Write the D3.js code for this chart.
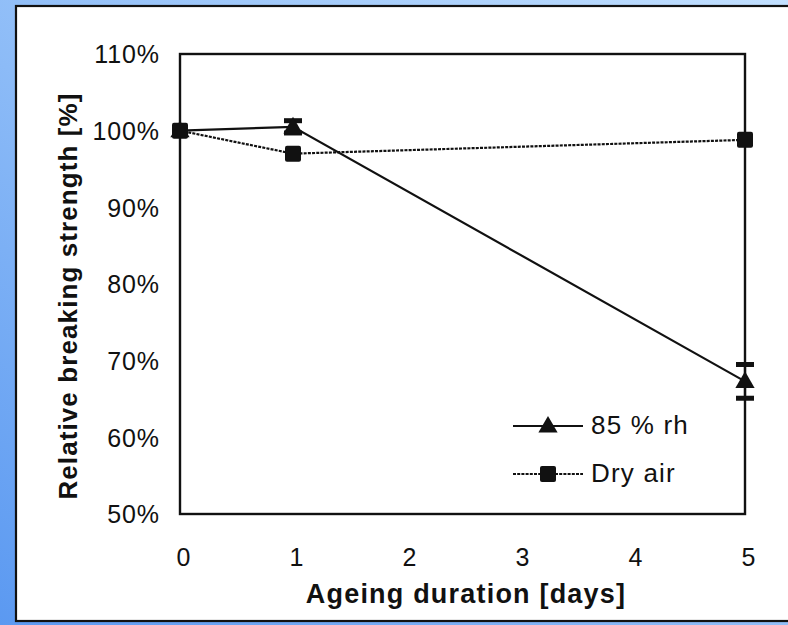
<!DOCTYPE html>
<html>
<head>
<meta charset="utf-8">
<script src="https://cdn.jsdelivr.net/npm/d3@7/dist/d3.min.js"></script>
<style>
  html, body { margin: 0; padding: 0; background: #fff; }
  svg { display: block; }
  text { font-family: "Liberation Sans", Arial, Helvetica, sans-serif; fill: #111; }
</style>
</head>
<body>
<svg id="chart" width="788" height="625"></svg>
<script>
// Ageing duration (days) at which the samples were measured
const days = [0, 1, 5];
// Relative breaking strength (%) per series
const rhValues = [100, 100.5, 67.3];
const rhErrors = [0, 0.8, 2.2];
const dryValues = [100, 97.0, 98.8];
const seriesNames = ["85 % rh", "Dry air"];
const xTicks = [0, 1, 2, 3, 4, 5];
const yTicks = [50, 60, 70, 80, 90, 100, 110];

const W = 788, H = 625;
const svg = d3.select("#chart");

// blue slide background with white panel
const defs = svg.append("defs");
const grad = defs.append("linearGradient").attr("id", "bg")
  .attr("x1", "0%").attr("y1", "100%").attr("x2", "100%").attr("y2", "0%");
grad.append("stop").attr("offset", "0%").attr("stop-color", "#5b99f1");
grad.append("stop").attr("offset", "45%").attr("stop-color", "#8cbbf7");
grad.append("stop").attr("offset", "100%").attr("stop-color", "#c2e0ff");
svg.append("rect").attr("width", W).attr("height", H).attr("fill", "url(#bg)");
svg.append("rect").attr("x", 16).attr("y", 6).attr("width", W - 14).attr("height", 615)
  .attr("fill", "#fff").attr("stroke", "#111").attr("stroke-width", 2.2);

const plot = { left: 180, right: 745, top: 54, bottom: 514 };
const x = d3.scaleLinear().domain([0, 5]).range([plot.left, plot.right]);
const y = d3.scaleLinear().domain([50, 110]).range([plot.bottom, plot.top]);

// frame
svg.append("rect")
  .attr("x", plot.left).attr("y", plot.top)
  .attr("width", plot.right - plot.left).attr("height", plot.bottom - plot.top)
  .attr("fill", "none").attr("stroke", "#111").attr("stroke-width", 2.4);

// axes (labels only, the frame carries the lines)
const yAxis = d3.axisLeft(y).tickValues(yTicks).tickSize(0).tickPadding(0)
  .tickFormat(d => d + "%");
const gy = svg.append("g").attr("transform", `translate(160,0)`).call(yAxis);
gy.select(".domain").remove();
gy.selectAll("text").attr("font-size", 25).attr("letter-spacing", 0.9)
  .attr("dy", "0.35em").attr("fill", "#111");

const xAxis = d3.axisBottom(x).tickValues(xTicks).tickSize(0).tickPadding(0)
  .tickFormat(d3.format("d"));
const gx = svg.append("g").attr("transform", `translate(3,${plot.bottom + 34})`).call(xAxis);
gx.select(".domain").remove();
gx.selectAll("text").attr("font-size", 25).attr("dy", "0.71em").attr("fill", "#111");

// axis titles
svg.append("text")
  .attr("x", 466).attr("y", 603)
  .attr("text-anchor", "middle")
  .attr("font-size", 27).attr("font-weight", "bold")
  .attr("letter-spacing", 1.2)
  .text("Ageing duration [days]");
svg.append("text")
  .attr("transform", "translate(77,296) rotate(-90)")
  .attr("text-anchor", "middle")
  .attr("font-size", 26).attr("font-weight", "bold")
  .attr("letter-spacing", 1.1)
  .text("Relative breaking strength [%]");

const rhData = days.map((d, i) => ({ x: d, y: rhValues[i], e: rhErrors[i] }));
const dryData = days.map((d, i) => ({ x: d, y: dryValues[i] }));

const line = d3.line().x(d => x(d.x)).y(d => y(d.y));

// dry air: dotted line
svg.append("path").datum(dryData).attr("d", line)
  .attr("fill", "none").attr("stroke", "#111").attr("stroke-width", 2.2)
  .attr("stroke-dasharray", "3,1.2");
// 85 % rh: solid line
svg.append("path").datum(rhData).attr("d", line)
  .attr("fill", "none").attr("stroke", "#111").attr("stroke-width", 2.2);

const sq = 16;
function square(g, cx, cy) {
  g.append("rect").attr("x", cx - sq / 2).attr("y", cy - sq / 2)
    .attr("width", sq).attr("height", sq).attr("rx", 2).attr("fill", "#111");
}
const tri = d3.symbol().type(d3.symbolTriangle).size(160);
function triangle(g, cx, cy) {
  g.append("path").attr("d", tri()).attr("transform", `translate(${cx},${cy + 1})`).attr("fill", "#111");
}

const marks = svg.append("g");
// error bars on the humid series
rhData.filter(d => d.e > 0).forEach(d => {
  const cx = x(d.x);
  marks.append("line").attr("x1", cx).attr("x2", cx)
    .attr("y1", y(d.y + d.e)).attr("y2", y(d.y - d.e))
    .attr("stroke", "#111").attr("stroke-width", 2.2);
  [d.y + d.e, d.y - d.e].forEach(v => {
    marks.append("rect").attr("x", cx - 9).attr("y", y(v) - 2.5)
      .attr("width", 18).attr("height", 5).attr("fill", "#111");
  });
});
dryData.forEach(d => square(marks, x(d.x), y(d.y)));
rhData.forEach(d => triangle(marks, x(d.x), y(d.y)));

// legend
const legend = svg.append("g");
const lx0 = 513, lx1 = 583, lxm = 548;
const ly = [426, 474];
legend.append("line").attr("x1", lx0).attr("x2", lx1).attr("y1", ly[0]).attr("y2", ly[0])
  .attr("stroke", "#111").attr("stroke-width", 2);
triangle(legend, lxm, ly[0]);
legend.append("line").attr("x1", lx0).attr("x2", lx1).attr("y1", ly[1]).attr("y2", ly[1])
  .attr("stroke", "#111").attr("stroke-width", 2).attr("stroke-dasharray", "3,1.2");
square(legend, lxm, ly[1]);
seriesNames.forEach((name, i) => {
  legend.append("text").attr("x", 591).attr("y", ly[i] + 8)
    .attr("font-size", 26).attr("letter-spacing", 1.2).text(name);
});
</script>
</body>
</html>
